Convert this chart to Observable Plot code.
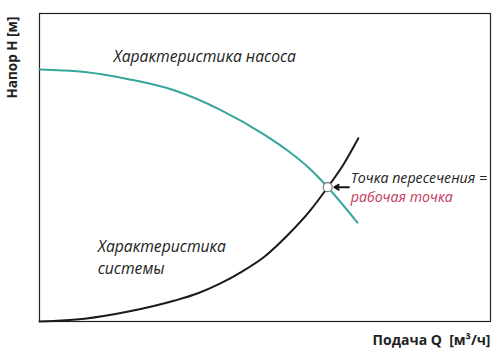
<!DOCTYPE html>
<html>
<head>
<meta charset="utf-8">
<script src="https://cdn.jsdelivr.net/npm/d3@7"></script>
<script src="https://cdn.jsdelivr.net/npm/@observablehq/plot@0.6"></script>
<style>
  html, body { margin: 0; padding: 0; background: #fff; }
</style>
</head>
<body>
<div id="chart"></div>
<script>
// Pump characteristic (Q, H) (arbitrary units 0..100)
const pumpQ = [0, 5, 10, 20, 30, 40, 50, 55, 60, 63.9, 70.5];
const pumpH = [81.8, 81.5, 81.0, 78.6, 75.0, 68.8, 60.5, 55.5, 49.5, 43.6, 32.1];
// System characteristic
const sysQ = [0, 10, 20, 30, 35, 40, 45, 50, 55, 60, 63.9, 67.4, 70.7];
const sysH = [0, 0.9, 3.3, 6.8, 9.1, 12.3, 16.3, 21.2, 28.0, 36.0, 43.6, 51.0, 59.5];
// Operating point
const opQ = [63.9];
const opH = [43.6];
// Texts
const pumpLabel = ["Характеристика насоса"];
const sysLabel = ["Характеристика\nсистемы"];
const opLabel1 = ["Точка пересечения ="];
const opLabel2 = ["рабочая точка"];
const yLabel = ["Напор H [м]"];
const xLabel = ["Подача Q  [м³/ч]"];

const pump = pumpQ.map((q, i) => ({Q: q, H: pumpH[i]}));
const sys = sysQ.map((q, i) => ({Q: q, H: sysH[i]}));
const op = opQ.map((q, i) => ({Q: q, H: opH[i]}));

const font = "'Open Sans', 'Noto Sans', sans-serif";

const chart = Plot.plot({
  width: 500,
  height: 353,
  marginLeft: 39,
  marginRight: 10,
  marginTop: 13,
  marginBottom: 32,
  style: {fontFamily: font, background: "#fff", overflow: "visible"},
  x: {domain: [0, 100], axis: null},
  y: {domain: [0, 100], axis: null},
  marks: [
    Plot.frame({stroke: "#222", strokeWidth: 1.2}),
    Plot.line(pump, {x: "Q", y: "H", curve: "monotone-x", stroke: "#35a69b", strokeWidth: 2}),
    Plot.line(sys, {x: "Q", y: "H", curve: "monotone-x", stroke: "#1a1a1a", strokeWidth: 2}),
    Plot.arrow([{x1: 68.6, x2: 65.4, y: 43.6}], {x1: "x1", x2: "x2", y1: "y", y2: "y", stroke: "#111", strokeWidth: 2, headLength: 7, bend: 0}),
    Plot.dot(op, {x: "Q", y: "H", r: 4.5, fill: "#fff", stroke: "#777", strokeWidth: 1.2}),
    Plot.text(pumpLabel, {x: 16.4, y: 86, text: d => d, textAnchor: "start", fontSize: 15.7, fontStyle: "italic", fill: "#222"}),
    Plot.text(sysLabel, {x: 12.9, y: 21.4, text: d => d, textAnchor: "start", fontSize: 15.7, fontStyle: "italic", fill: "#222", lineHeight: 1.4}),
    Plot.text(opLabel1, {x: 69.0, y: 46.4, text: d => d, textAnchor: "start", fontSize: 14.2, fontStyle: "italic", fill: "#222"}),
    Plot.text(opLabel2, {x: 69.0, y: 40.3, text: d => d, textAnchor: "start", fontSize: 14.2, fontStyle: "italic", fill: "#c23a5e"}),
    Plot.text(yLabel, {x: -5.9, y: 85.7, text: d => d, rotate: -90, fontSize: 13.5, fontWeight: "bold", fill: "#222"}),
    Plot.text(xLabel, {x: 100, y: -6.2, text: d => d, textAnchor: "end", fontSize: 14, fontWeight: "bold", fill: "#222"})
  ]
});
document.getElementById("chart").appendChild(chart);
</script>
</body>
</html>
